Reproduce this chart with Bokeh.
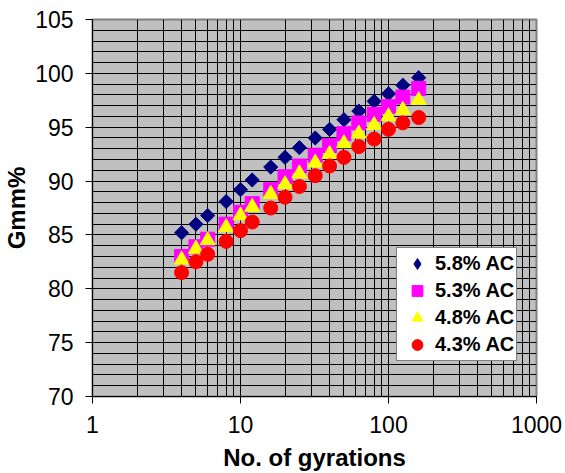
import math
from bokeh.plotting import figure
from bokeh.models import Range1d, FixedTicker, CustomJSTickFormatter, Legend, LegendItem
from bokeh.embed import file_html
from bokeh.resources import INLINE

# ---- data ----
gyrations = [4, 5, 6, 8, 10, 12, 16, 20, 25, 32, 40, 50, 63, 80, 100, 125, 160]
ac_58 = [85.2, 86.0, 86.8, 88.1, 89.2, 90.1, 91.3, 92.2, 93.1, 94.0, 94.8, 95.7, 96.5, 97.4, 98.1, 98.9, 99.6]
ac_53 = [83.0, 83.9, 84.6, 86.0, 87.1, 87.9, 89.2, 90.4, 91.4, 92.4, 93.3, 94.4, 95.4, 96.2, 96.9, 97.8, 98.6]
ac_48 = [82.7, 83.7, 84.5, 85.7, 86.8, 87.6, 88.8, 89.7, 90.7, 91.7, 92.5, 93.5, 94.4, 95.2, 96.0, 96.6, 97.5]
ac_43 = [81.5, 82.5, 83.2, 84.4, 85.4, 86.2, 87.5, 88.5, 89.5, 90.5, 91.4, 92.2, 93.2, 93.9, 94.8, 95.4, 95.9]
series_names = ["5.8% AC", "5.3% AC", "4.8% AC", "4.3% AC"]
x_ticks = [1, 10, 100, 1000]
y_ticks = [70, 75, 80, 85, 90, 95, 100, 105]

FONT = "Liberation Sans"

p = figure(width=565, height=473, x_axis_type="log", output_backend="svg",
           toolbar_location=None, x_range=Range1d(1, 1000), y_range=Range1d(70, 105),
           min_border_left=90, min_border_right=29, min_border_top=19, min_border_bottom=77)
p.border_fill_color = "white"
p.background_fill_color = "#C0C0C0"
p.outline_line_color = "#808080"
p.outline_line_width = 2

x_minor = [m * 10 ** d for d in range(0, 3) for m in range(2, 10)]
xt = FixedTicker(ticks=x_ticks, minor_ticks=x_minor)
yt = FixedTicker(ticks=y_ticks, minor_ticks=list(range(70, 106)))
p.xaxis.ticker = xt
p.yaxis.ticker = yt
p.xgrid.ticker = xt
p.ygrid.ticker = yt
p.xaxis.formatter = CustomJSTickFormatter(code="return String(Math.round(tick));")

for g in (p.xgrid, p.ygrid):
    g.grid_line_color = "black"
    g.grid_line_width = 1
    g.minor_grid_line_color = "black"
    g.minor_grid_line_width = 1

for ax in (p.xaxis, p.yaxis):
    ax.axis_line_color = "black"
    ax.major_tick_line_color = "black"
    ax.major_tick_out = 7
    ax.major_tick_in = 0
    ax.minor_tick_line_color = None
    ax.major_label_text_font = FONT
    ax.major_label_text_font_size = "23px"
    ax.major_label_text_color = "black"
    ax.axis_label_text_font = FONT
    ax.axis_label_text_font_size = "24px"
    ax.axis_label_text_font_style = "bold"
    ax.axis_label_text_color = "black"

p.xaxis.axis_label = "No. of gyrations"
p.yaxis.axis_label = "Gmm%"
p.yaxis.major_label_standoff = 12
p.xaxis.major_label_standoff = 12
p.yaxis.axis_label_standoff = 2
p.xaxis.axis_label_standoff = 8

r1 = p.scatter(gyrations, ac_58, marker="square", angle=math.pi / 4, size=10,
               fill_color="#000080", line_color="#000080")
r2 = p.scatter(gyrations, ac_53, marker="square", size=14,
               fill_color="#FF00FF", line_color="#FF00FF")
r3 = p.scatter(gyrations, ac_48, marker="triangle", size=15,
               fill_color="#FFFF00", line_color="#FFFF00")
r4 = p.scatter(gyrations, ac_43, marker="circle", size=14,
               fill_color="#FF0000", line_color="#FF0000")
# legend-only symbol for the diamond series (draws nothing on the plot)
r1_leg = p.scatter(gyrations, ac_58, marker="diamond", size=0,
                   fill_color="#000080", line_color="#000080")

legend = Legend(items=[LegendItem(label=series_names[0], renderers=[r1_leg]),
                       LegendItem(label=series_names[1], renderers=[r2]),
                       LegendItem(label=series_names[2], renderers=[r3]),
                       LegendItem(label=series_names[3], renderers=[r4])],
                location=(304, 35))
legend.label_text_font = FONT
legend.label_text_font_size = "20px"
legend.label_text_font_style = "bold"
legend.label_text_color = "black"
legend.border_line_color = "black"
legend.border_line_width = 1
legend.background_fill_color = "white"
legend.background_fill_alpha = 1
legend.padding = 2
legend.spacing = 0
legend.label_height = 20
legend.glyph_height = 27
legend.glyph_width = 36
legend.label_standoff = 0
legend.margin = 0
p.add_layout(legend, "center")

open("out.html", "w").write(file_html(p, INLINE))
